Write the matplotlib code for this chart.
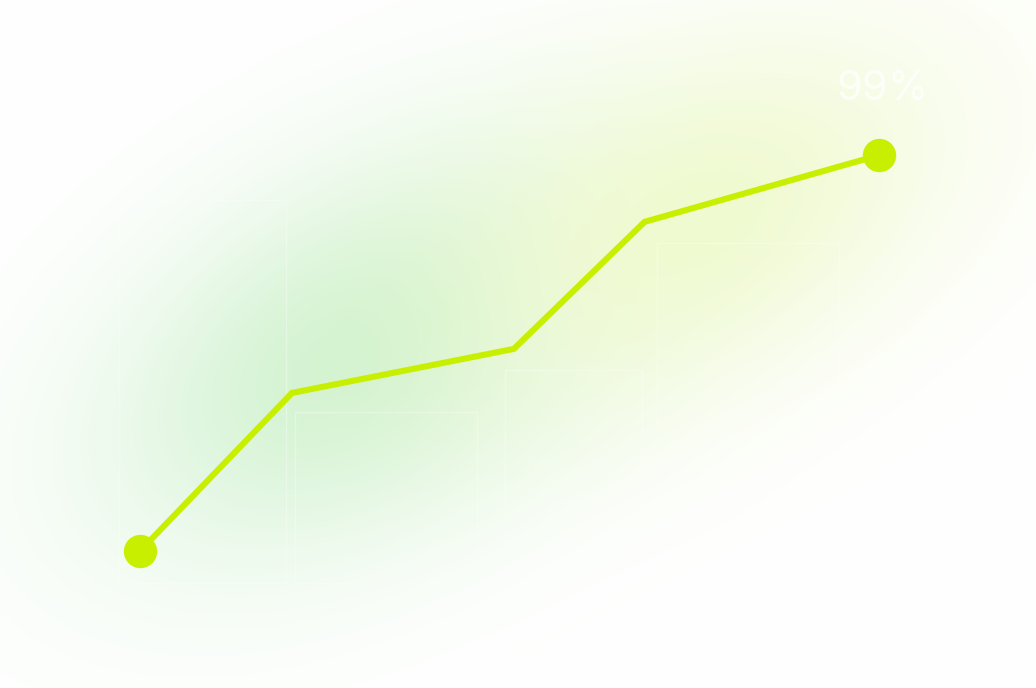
import numpy as np
import matplotlib
matplotlib.use("Agg")
import matplotlib.pyplot as plt

# line series
x_vals = [1.0, 2.0, 3.46, 4.32, 5.86]
y_vals = [7.4, 44.0, 54.2, 83.6, 99.0]

# faint background bars
bar_left = [0.86, 2.02, 3.40, 4.40]
bar_height = [88.7, 39.6, 49.3, 78.7]
bar_width = [1.1, 1.2, 0.9, 1.2]

label = "99%"
line_color = "#c8ef00"

fig = plt.figure(figsize=(10.36, 6.88), dpi=100)
ax = fig.add_axes([0, 0, 1, 1])
ax.set_xlim(0.079, 6.895)
ax.set_ylim(-24.3, 134.95)
ax.axis("off")

# soft glow: two rotated gaussian blobs, green on the left, yellow-green on the right
W, H = 1036, 688
yy, xx = np.mgrid[0:H, 0:W].astype(float)

def blob(cx, cy, sa, sb, ang):
    t = np.deg2rad(ang)
    dx, dy = xx - cx, yy - cy
    u = dx * np.cos(t) + dy * np.sin(t)
    v = -dx * np.sin(t) + dy * np.cos(t)
    return np.exp(-0.5 * ((u / sa) ** 2 + (v / sb) ** 2))

g = blob(365, 350, 200, 120, -30)
yel = blob(695, 220, 195, 110, -26)
green = np.array([208, 242, 208]) / 255.0
yellow = np.array([240, 250, 208]) / 255.0
img = np.ones((H, W, 3))
img = img * (1 - g[..., None]) + green * g[..., None]
img = img * (1 - yel[..., None]) + yellow * yel[..., None]
ax.imshow(img, extent=[0, 1, 0, 1], transform=ax.transAxes, aspect="auto",
          zorder=0, interpolation="bilinear")

ax.bar(bar_left, bar_height, width=bar_width, align="edge", bottom=0,
       facecolor="none", edgecolor=(1, 1, 1, 0.3), linewidth=1.0, zorder=1)

ax.plot(x_vals, y_vals, color=line_color, lw=4.4, solid_joinstyle="miter", zorder=3)
ax.plot([x_vals[0], x_vals[-1]], [y_vals[0], y_vals[-1]], "o", color=line_color,
        markersize=23, zorder=4)

ax.text(0.807, 0.87, label, transform=ax.transAxes, fontsize=30, color="white",
        alpha=0.75, family="Inter", va="center", ha="left", zorder=5)

fig.savefig("out.png", dpi=100)
